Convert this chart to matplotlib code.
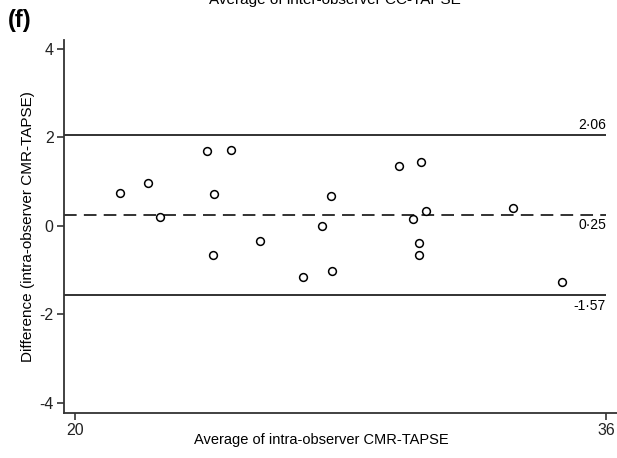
import numpy as np
import matplotlib
matplotlib.use("Agg")
import matplotlib.pyplot as plt

plt.rcParams['font.family'] = ['Liberation Sans', 'DejaVu Sans']
plt.rcParams['axes.unicode_minus'] = False

# Bland-Altman data: average vs difference (intra-observer CMR-TAPSE)
avg_vals = [21.36, 22.21, 22.56, 23.98, 24.70, 24.20, 24.15, 25.59, 26.88, 27.45,
            27.70, 27.75, 29.76, 30.44, 30.57, 30.19, 30.37, 30.37, 33.19, 34.66]
diff_vals = [0.75, 0.97, 0.19, 1.68, 1.71, 0.73, -0.66, -0.35, -1.16, -0.01,
             0.68, -1.01, 1.36, 1.45, 0.34, 0.16, -0.38, -0.66, 0.41, -1.27]
mean_diff = 0.25
upper_loa = 2.06
lower_loa = -1.57
mean_label = "0·25"
upper_label = "2·06"
lower_label = "-1·57"
xticks = [20, 36]
yticks = [-4, -2, 0, 2, 4]

fig = plt.figure(figsize=(6.17, 4.58), dpi=100)
ax = fig.add_axes([0.1037, 0.0983, 0.8963, 0.8144])

x_lo, x_hi = 19.67, 36.33
ax.set_xlim(x_lo, x_hi)
ax.set_ylim(-4.23, 4.2)

# limits of agreement and mean difference
ax.hlines([upper_loa, lower_loa], x_lo, 36, colors='#222222', lw=1.3)
ax.hlines(mean_diff, x_lo, 36, colors='#222222', lw=1.3, linestyles=(0, (7, 4)))

ax.plot(avg_vals, diff_vals, 'o', ms=5.6, mfc='white', mec='black', mew=1.1, ls='none')

ax.text(36, upper_loa + 0.06, upper_label, ha='right', va='bottom', fontsize=10)
ax.text(36, mean_diff - 0.08, mean_label, ha='right', va='top', fontsize=10)
ax.text(36, lower_loa - 0.08, lower_label, ha='right', va='top', fontsize=10)

ax.set_xticks(xticks)
ax.set_yticks(yticks)
ax.tick_params(direction='out', length=5, width=1.1, labelsize=11.5, pad=2.5, colors='#222222')
for s in ['top', 'right']:
    ax.spines[s].set_visible(False)
for s in ['left', 'bottom']:
    ax.spines[s].set_linewidth(1.3)
    ax.spines[s].set_color('#333333')

ax.set_xlabel("Average of intra-observer CMR-TAPSE", fontsize=10.5)
ax.set_ylabel("Difference (intra-observer CMR-TAPSE)", fontsize=11)
ax.xaxis.set_label_coords(0.465, -0.055)
ax.yaxis.set_label_coords(-0.052, 0.5)

fig.text(0.013, 0.955, "(f)", fontsize=17, fontweight='bold', ha='left', va='center')
fig.text(0.543, 1.0, "Average of inter-observer CC-TAPSE", fontsize=11, ha='center', va='center')

fig.savefig("out.png", dpi=100)
